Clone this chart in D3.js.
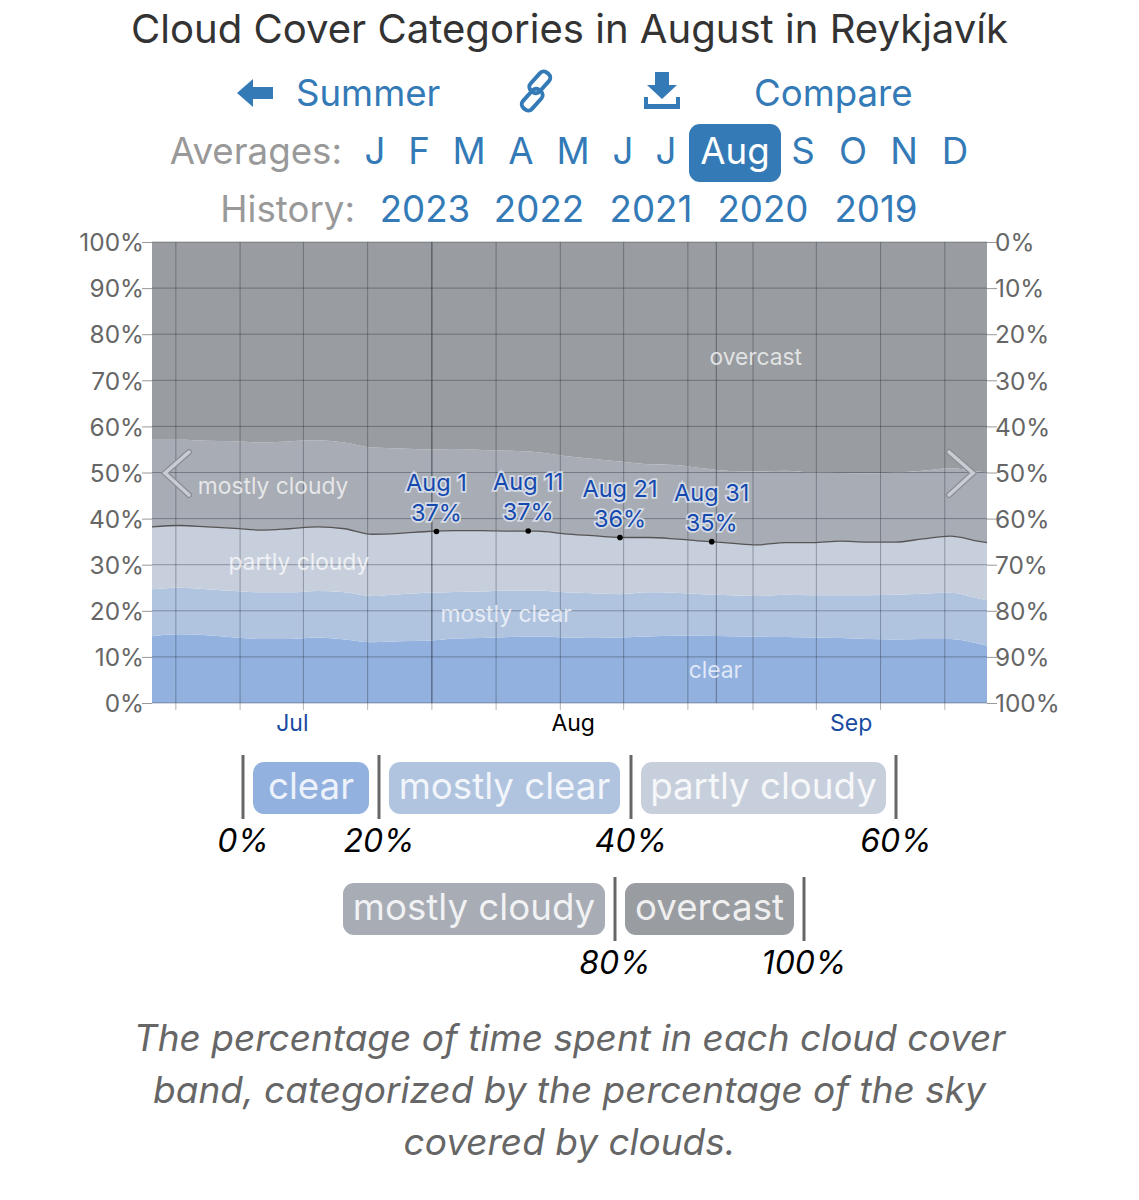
<!DOCTYPE html>
<html>
<head>
<meta charset="utf-8">
<script src="https://cdnjs.cloudflare.com/ajax/libs/d3/7.8.5/d3.min.js"></script>
<style>
body { margin: 0; background: #fff; }
text { font-family: Inter, "Noto Sans", sans-serif; }
</style>
</head>
<body>
<div id="chart"></div>
<script>
// day of year for each reading
const days = [182,185,188,191,194,197,200,203,206,209,212,215,218,221,224,227,230,233,236,239,242,245,248,251,254,257,260,263,266,269,272,273];
// top edge of each band, in % (cumulative)
const clearTop = [14.5,14.9,14.7,14.2,13.9,13.9,14.2,13.8,13.2,13.4,13.5,14,14.1,14.3,14.4,14.2,14.1,14.2,14.4,14.6,14.6,14.5,14.4,14.3,14.2,14.1,13.9,13.8,13.9,13.9,12.9,12.4];
const mostlyClearTop = [24.7,25,24.7,24.3,24,24,24.3,24,23.2,23.6,23.9,24.1,24.2,24.4,24.4,24,23.8,23.6,24,23.9,23.6,23.4,23.2,23.5,23.4,23.4,23.4,23.5,23.7,23.9,22.7,22.3];
const partlyCloudyTop = [38.2,38.5,38.2,37.9,37.5,37.8,38.2,37.8,36.6,36.8,37.2,37.4,37.4,37.3,37.3,36.7,36.3,35.9,35.9,35.6,35.1,34.7,34.3,34.8,34.8,35.1,34.9,34.9,35.6,36.2,35.1,34.8];
const mostlyCloudyTop = [57.1,57.1,56.9,56.8,56.5,56.8,57,56.5,55.4,55.2,55,55.1,54.9,54.7,54.4,53.6,53,52.4,51.8,51.6,50.9,50.3,50.2,50.4,50,49.9,49.8,50,50.4,50.9,50.2,50];
const overcastTop = days.map(() => 100);
const zeroLine = days.map(() => 0);

const bandNames = ["clear","mostly clear","partly cloudy","mostly cloudy","overcast"];
const bandColors = ["#92b1df","#b0c4e0","#c8cfdc","#a8acb4","#999ca0"];
const bandLabelDays = [243.4,220.6,198,195.2,247.8];
const bandLabelPcts = [7.2,19.3,30.6,47.1,75];

const pctTicks = [0,10,20,30,40,50,60,70,80,90,100];
const weekDays = [184.6,191.6,198.5,205.5,212.5,219.5,226.5,233.4,240.4,247.5,254.4,261.4,268.4];
const monthEdges = [212.5,243.5];
const monthNames = ["Jul","Aug","Sep"];
const monthDays = [197.3,227.9,258.2];
const monthColors = ["#1a4ba0","#000","#1a4ba0"];

const pointNames = ["Aug 1","Aug 11","Aug 21","Aug 31"];
const pointDays = [213,223,233,243];
const pointVals = [37.2,37.3,35.9,35];
const pointLabels = ["37%","37%","36%","35%"];

const avgLetters = ["J","F","M","A","M","J","J","Aug","S","O","N","D"];
const avgCenters = [375,419,469,521,573,623,666,735,803,853,904,955];
const historyYears = ["2023","2022","2021","2020","2019"];
const historyCenters = [425,539,651,763,876];

const captionLines = ["The percentage of time spent in each cloud cover","band, categorized by the percentage of the sky","covered by clouds."];

const width = 1139, height = 1200;
const margin = {left: 152, right: 152, top: 242, bottom: 497};
const blue = "#337ab7";

const svg = d3.select("#chart").append("svg")
    .attr("width", width)
    .attr("height", height)
    .style("display", "block");

// header
svg.append("text").attr("x", 569.5).attr("y", 43).attr("text-anchor", "middle")
    .attr("font-size", 40.1).attr("fill", "#333")
    .text("Cloud Cover Categories in August in Reykjavík");

const nav = svg.append("g").attr("fill", blue).attr("font-size", 36.6);
nav.append("text").attr("x", 296).attr("y", 106).text("Summer");
nav.append("text").attr("x", 754).attr("y", 106).text("Compare");
nav.append("path").attr("d", "M237,93 L253,79 L253,87 L273,87 L273,99 L253,99 L253,107 Z");
nav.append("path").attr("d", "M655,72 L669,72 L669,85 L677,85 L662,99 L647,85 L655,85 Z");
nav.append("path").attr("d", "M644,97 L648,97 L648,104 L676,104 L676,97 L680,97 L680,109 L644,109 Z");
const link = nav.append("g").attr("transform", "translate(536,91) rotate(42)")
    .attr("fill", "none").attr("stroke", blue).attr("stroke-width", 4);
link.append("rect").attr("x", -9).attr("y", -21).attr("width", 12).attr("height", 24).attr("rx", 5);
link.append("rect").attr("x", -3).attr("y", -3).attr("width", 12).attr("height", 24).attr("rx", 5);

svg.append("text").attr("x", 342).attr("y", 164).attr("text-anchor", "end")
    .attr("font-size", 36.7).attr("fill", "#999").text("Averages:");
svg.append("rect").attr("x", 689).attr("y", 124).attr("width", 92).attr("height", 58).attr("rx", 11).attr("fill", blue);
svg.append("g").selectAll("text").data(avgLetters).join("text")
    .attr("x", (d, i) => avgCenters[i]).attr("y", 164).attr("text-anchor", "middle")
    .attr("font-size", 36.7).attr("fill", d => d == "Aug" ? "#fff" : blue)
    .text(d => d);

svg.append("text").attr("x", 355).attr("y", 222).attr("text-anchor", "end")
    .attr("font-size", 36.7).attr("fill", "#999").text("History:");
svg.append("g").selectAll("text").data(historyYears).join("text")
    .attr("x", (d, i) => historyCenters[i]).attr("y", 222).attr("text-anchor", "middle")
    .attr("font-size", 36.7).attr("fill", blue)
    .text(d => d);

// scales
const xScale = d3.scaleLinear()
    .domain([182, 273])
    .range([margin.left, width - margin.right]);
const yScale = d3.scaleLinear()
    .domain([0, 100])
    .range([height - margin.bottom, margin.top]);
const yScaleRight = d3.scaleLinear()
    .domain([0, 100])
    .range([margin.top, height - margin.bottom]);

// bands
const edges = [zeroLine, clearTop, mostlyClearTop, partlyCloudyTop, mostlyCloudyTop, overcastTop];
const bandArea = (lower, upper) => d3.area()
    .x((d, i) => xScale(d))
    .y0((d, i) => yScale(lower[i]))
    .y1((d, i) => yScale(upper[i]))
    .curve(d3.curveMonotoneX)(days);

svg.append("g").selectAll("path").data(bandNames).join("path")
    .attr("fill", (d, i) => bandColors[i])
    .attr("d", (d, i) => bandArea(edges[i], edges[i + 1]));

// grid
const grid = svg.append("g");
grid.selectAll(".h").data(pctTicks).join("line").attr("class", "h")
    .attr("x1", margin.left).attr("x2", width - margin.right)
    .attr("y1", d => yScale(d)).attr("y2", d => yScale(d))
    .attr("stroke", "#1c2433").attr("stroke-opacity", 0.36);
grid.selectAll(".w").data(weekDays).join("line").attr("class", "w")
    .attr("x1", d => xScale(d)).attr("x2", d => xScale(d))
    .attr("y1", margin.top).attr("y2", height - margin.bottom + 7)
    .attr("stroke", "#1c2433").attr("stroke-opacity", 0.34);
grid.selectAll(".m").data(monthEdges).join("line").attr("class", "m")
    .attr("x1", d => xScale(d)).attr("x2", d => xScale(d))
    .attr("y1", margin.top).attr("y2", height - margin.bottom)
    .attr("stroke", "#1c2433").attr("stroke-opacity", 0.45);

//yAxis code
const styleAxis = g => {
    g.select(".domain").remove();
    g.selectAll(".tick line").attr("stroke", "#999");
    g.selectAll(".tick text").attr("font-size", 24.4).attr("fill", "#666").attr("font-family", "Inter").attr("dy", "0.36em");
};
svg.append("g")
    .attr("transform", "translate(" + margin.left + ",0)")
    .call(d3.axisLeft(yScale).tickValues(pctTicks).tickSize(10).tickPadding(-2).tickFormat(d => d + "%"))
    .call(styleAxis);
svg.append("g")
    .attr("transform", "translate(" + (width - margin.right) + ",0)")
    .call(d3.axisRight(yScaleRight).tickValues(pctTicks).tickSize(10).tickPadding(-2).tickFormat(d => d + "%"))
    .call(styleAxis);

// month labels
svg.append("g").selectAll("text").data(monthNames).join("text")
    .attr("x", (d, i) => xScale(monthDays[i])).attr("y", 731).attr("text-anchor", "middle")
    .attr("font-size", 23).attr("fill", (d, i) => monthColors[i])
    .text(d => d);

// band labels
svg.append("g").selectAll("text").data(bandNames).join("text")
    .attr("x", (d, i) => xScale(bandLabelDays[i]))
    .attr("y", (d, i) => yScale(bandLabelPcts[i]))
    .attr("dy", "0.35em").attr("text-anchor", "middle")
    .attr("font-size", 22.8).attr("fill", "#fff").attr("fill-opacity", 0.72)
    .text(d => d);

// cloud line + points
const cloudLine = d3.line()
    .x((d, i) => xScale(d))
    .y((d, i) => yScale(partlyCloudyTop[i]))
    .curve(d3.curveMonotoneX);
svg.append("path").datum(days)
    .attr("fill", "none").attr("stroke", "#555").attr("stroke-width", 1.3)
    .attr("d", cloudLine);

svg.append("g").selectAll("circle").data(pointDays).join("circle")
    .attr("cx", d => xScale(d))
    .attr("cy", (d, i) => yScale(pointVals[i]))
    .attr("r", 2.8).attr("fill", "#000");

const pointText = svg.append("g")
    .attr("text-anchor", "middle").attr("font-size", 23.5).attr("fill", "#1549ad")
    .attr("stroke", "#dfe5f0").attr("stroke-opacity", 0.85).attr("stroke-width", 3.5)
    .style("paint-order", "stroke");
pointText.selectAll(".n").data(pointNames).join("text").attr("class", "n")
    .attr("x", (d, i) => xScale(pointDays[i]))
    .attr("y", (d, i) => yScale(pointVals[i]) - 41)
    .text(d => d);
pointText.selectAll(".p").data(pointLabels).join("text").attr("class", "p")
    .attr("x", (d, i) => xScale(pointDays[i]))
    .attr("y", (d, i) => yScale(pointVals[i]) - 11)
    .text(d => d);

// chevrons
const chevron = (pts) => {
    const c = svg.append("g").attr("fill", "none").attr("stroke-linecap", "round").attr("stroke-linejoin", "miter");
    c.append("polyline").attr("points", pts).attr("stroke", "#8b8e95").attr("stroke-width", 6);
    c.append("polyline").attr("points", pts).attr("stroke", "#c9ccd2").attr("stroke-width", 3.5);
};
chevron("189,452 165,473 189,495");
chevron("949,452 973,473 949,495");

// legend
const legendChips = [
    {name: "clear", x0: 253, x1: 369, y: 762, c: 0},
    {name: "mostly clear", x0: 389, x1: 620, y: 762, c: 1},
    {name: "partly cloudy", x0: 641, x1: 886, y: 762, c: 2},
    {name: "mostly cloudy", x0: 343, x1: 605, y: 883, c: 3},
    {name: "overcast", x0: 625, x1: 794, y: 883, c: 4}
];
const legendTicks = [
    {label: "0%", x: 243, y: 755},
    {label: "20%", x: 379, y: 755},
    {label: "40%", x: 631, y: 755},
    {label: "60%", x: 896, y: 755},
    {label: "80%", x: 615, y: 877},
    {label: "100%", x: 804, y: 877}
];
const legend = svg.append("g");
legend.selectAll("rect").data(legendChips).join("rect")
    .attr("x", d => d.x0).attr("y", d => d.y)
    .attr("width", d => d.x1 - d.x0).attr("height", 52).attr("rx", 11)
    .attr("fill", d => bandColors[d.c]);
legend.selectAll(".chip").data(legendChips).join("text").attr("class", "chip")
    .attr("x", d => (d.x0 + d.x1) / 2).attr("y", d => d.y + 37)
    .attr("text-anchor", "middle").attr("font-size", 36.7).attr("fill", "#fff").attr("fill-opacity", 0.85)
    .text(d => d.name);
legend.selectAll("line").data(legendTicks).join("line")
    .attr("x1", d => d.x).attr("x2", d => d.x)
    .attr("y1", d => d.y).attr("y2", d => d.y + 64)
    .attr("stroke", "#666").attr("stroke-width", 3);
legend.selectAll(".tick").data(legendTicks).join("text").attr("class", "tick")
    .attr("x", d => d.x).attr("y", d => d.y + 97)
    .attr("text-anchor", "middle").attr("font-size", 32).attr("font-style", "italic").attr("fill", "#000")
    .text(d => d.label);

// caption
svg.append("g").selectAll("text").data(captionLines).join("text")
    .attr("x", 569.5).attr("y", (d, i) => 1051 + i * 52).attr("text-anchor", "middle")
    .attr("font-size", 37).attr("font-style", "italic").attr("fill", "#666")
    .text(d => d);
</script>
</body>
</html>
